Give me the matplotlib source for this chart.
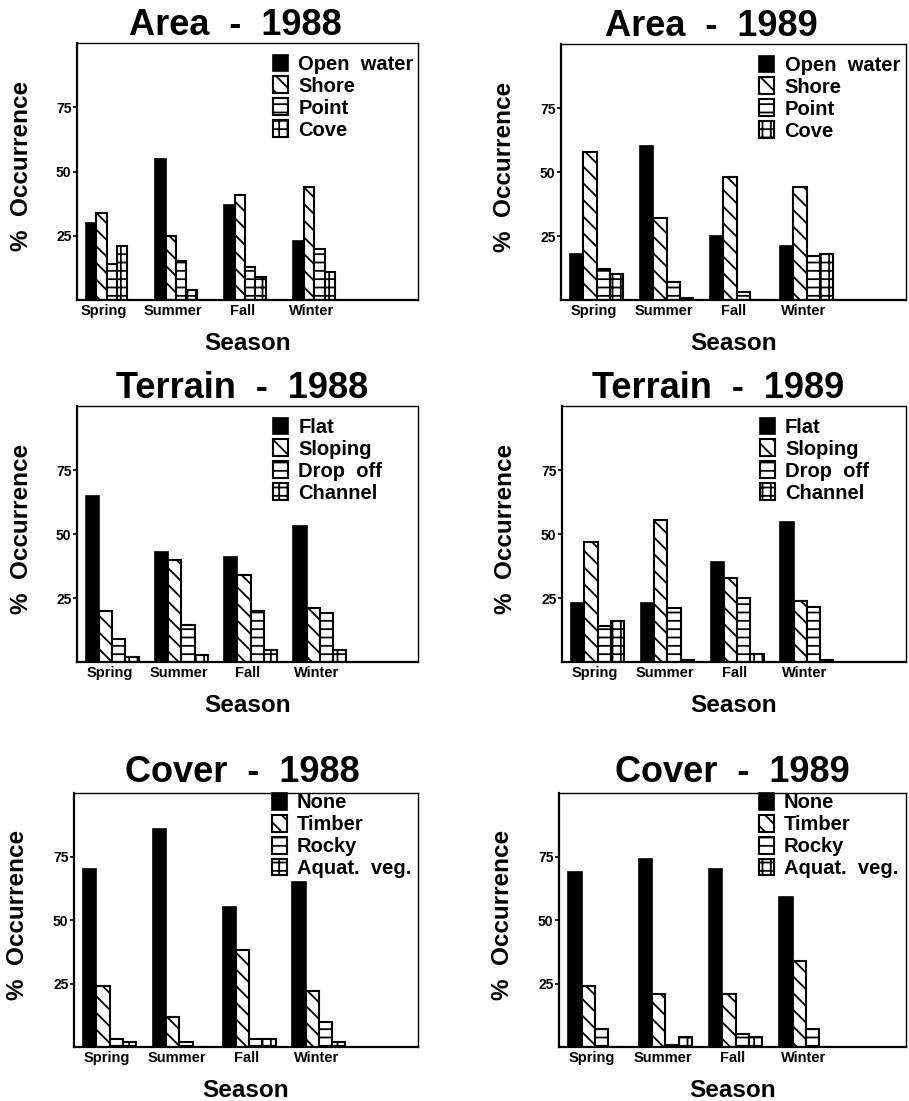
#plot.py
#Habitat use by season, six bar panels (area, terrain, cover for 1988 and 1989)

import matplotlib
matplotlib.use("Agg")
import matplotlib.pyplot as plt
import numpy as np

plt.rcParams['font.family'] = ['Liberation Sans', 'DejaVu Sans']
plt.rcParams['font.weight'] = 'bold'
plt.rcParams['hatch.linewidth'] = 1.3

#data
seasons = ["Spring", "Summer", "Fall", "Winter"]

area_labels = ["Open  water", "Shore", "Point", "Cove"]
terrain_labels = ["Flat", "Sloping", "Drop  off", "Channel"]
cover_labels = ["None", "Timber", "Rocky", "Aquat.  veg."]

#one row per category, one value per season
area_1988 = [[30, 55, 37, 23],
             [34, 25, 41, 44],
             [14, 15, 13, 20],
             [21, 4, 9, 11]]
area_1989 = [[18, 60, 25, 21],
             [58, 32, 48, 44],
             [12, 7, 3, 17],
             [10, 0.8, 0, 18]]
terrain_1988 = [[65, 43, 41, 53],
                [20, 40, 34, 21],
                [9, 14.5, 20, 19],
                [1.8, 2.7, 4.7, 4.5]]
terrain_1989 = [[23, 23, 39, 54.5],
                [47, 55.5, 33, 24],
                [14, 21, 25, 21.5],
                [16, 0.8, 3, 0.8]]
cover_1988 = [[70, 86, 55, 65],
              [24, 12, 38, 22],
              [3, 2, 3, 10],
              [2, 0, 3, 2]]
cover_1989 = [[69, 74, 70, 59],
              [24, 21, 21, 34],
              [7, 0.8, 5, 7],
              [0, 4, 4, 0]]

hatches = [None, "\\\\", "--", "++"]

W, H = 909, 1101
fig = plt.figure(figsize=(W/100, H/100), dpi=100)

def px_axes(left, top, right, bottom):
    return fig.add_axes([left/W, 1 - bottom/H, (right-left)/W, (bottom-top)/H])

def panel(ax, values, labels, title, width, legend_y, title_x, title_pad):
    x = np.arange(len(seasons))
    handles = []
    for k in range(len(values)):
        if hatches[k] is None:
            b = ax.bar(x + (k+0.5)*width, values[k], width, color="black",
                       edgecolor="black", linewidth=1.2)
        else:
            b = ax.bar(x + (k+0.5)*width, values[k], width, color="white",
                       edgecolor="black", linewidth=1.5, hatch=hatches[k])
        handles.append(b)
    ax.set_xlim(-0.13, 4.8)
    ax.set_ylim(0, 100)
    ax.set_yticks([25, 50, 75])
    ax.set_yticklabels(["25", "50", "75"], fontsize=10, fontweight="bold")
    ax.set_xticks(x + 2*width - 0.04)
    ax.set_xticklabels(seasons, fontsize=10.5, fontweight="bold")
    ax.tick_params(axis="x", length=0, pad=3)
    ax.tick_params(axis="y", length=3, width=1.2, pad=1)
    for s in ["left", "bottom"]:
        ax.spines[s].set_linewidth(1.6)
    for s in ["top", "right"]:
        ax.spines[s].set_linewidth(1.0)
    ax.set_ylabel("%  Occurrence", fontsize=17.5, fontweight="bold")
    ax.yaxis.set_label_coords(-0.13, 0.52)
    ax.set_xlabel("Season", fontsize=17.5, fontweight="bold")
    ax.xaxis.set_label_coords(0.5, -0.125)
    ax.set_title(title, fontsize=26, fontweight="bold", x=title_x, pad=title_pad)
    ax.legend(handles, labels, loc="upper left", bbox_to_anchor=(0.575, legend_y),
              frameon=False, handlelength=0.75, handleheight=0.9,
              handletextpad=0.5, labelspacing=0.13, borderpad=0, borderaxespad=0,
              prop={"weight": "bold", "size": 14.5})

#axes positions in pixels
ax1 = px_axes(77, 43, 418, 300)
ax2 = px_axes(561, 44, 906, 300)
ax3 = px_axes(77, 406, 418, 662)
ax4 = px_axes(562, 406, 906, 662)
ax5 = px_axes(74, 793, 418, 1047)
ax6 = px_axes(559, 793, 906, 1047)

panel(ax1, area_1988, area_labels, "Area  -  1988", 0.15, 0.955, 0.465, 4)
panel(ax2, area_1989, area_labels, "Area  -  1989", 0.19, 0.955, 0.435, 4)
panel(ax3, terrain_1988, terrain_labels, "Terrain  -  1988", 0.19, 0.955, 0.485, 2.5)
panel(ax4, terrain_1989, terrain_labels, "Terrain  -  1989", 0.19, 0.955, 0.455, 2.5)
panel(ax5, cover_1988, cover_labels, "Cover  -  1988", 0.19, 1.0, 0.49, 8)
panel(ax6, cover_1989, cover_labels, "Cover  -  1989", 0.19, 1.0, 0.5, 8)

plt.savefig("out.png", dpi=100)
